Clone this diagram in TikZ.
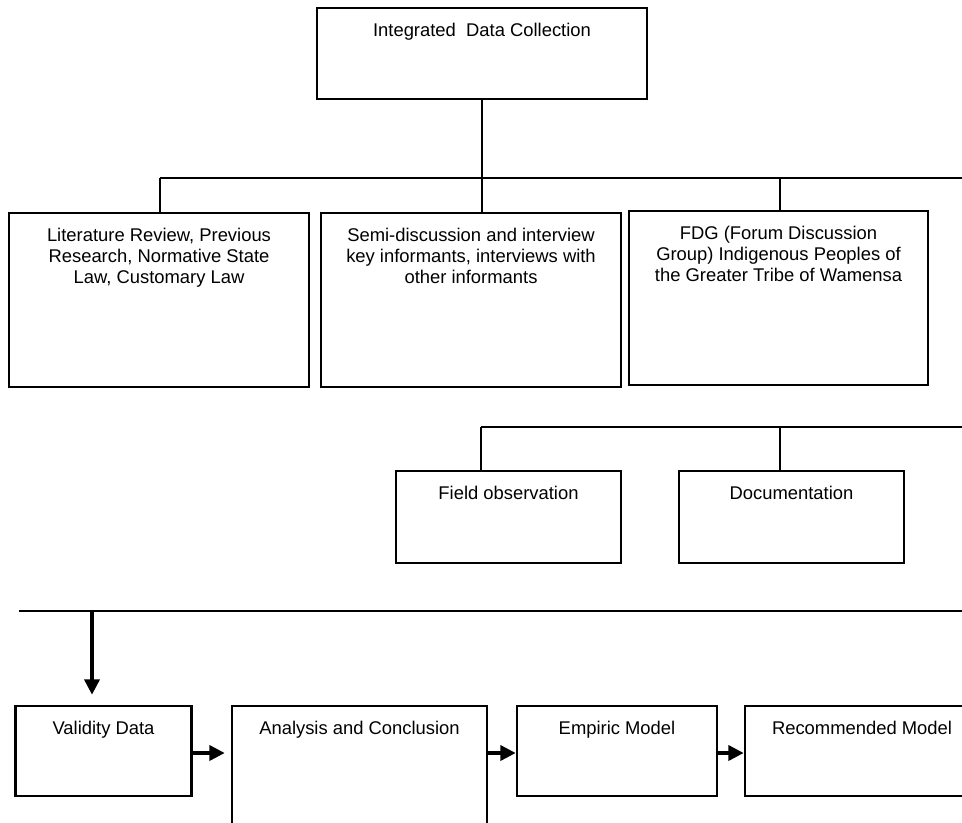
\documentclass[tikz,border=0pt]{standalone}
\usepackage{fontspec}
\setmainfont{Liberation Sans}
\usetikzlibrary{arrows.meta}
\newdimen\pxu \pxu=0.75pt
\begin{document}
\begin{tikzpicture}[x=0.75pt,y=-0.75pt,
  box/.style={draw=black, line width=2.1pt, rectangle, inner sep=0pt, fill=white},
  txt/.style={font=\fontsize{13.8pt}{15.75pt}\selectfont, align=center, inner sep=0pt, anchor=north},
  link/.style={draw=black, line width=1.6pt},
  arr/.style={draw=black, line width=2.3pt, -{Triangle[length=11.5pt,width=11.5pt]}}]
\useasboundingbox (0,0) rectangle (962,823);
\clip (0,0) rectangle (962,823);
\fill[white] (0,0) rectangle (962,823);

% connector coordinates
\coordinate (h1L) at (160,178);
\coordinate (h1R) at (962,178);
\coordinate (d3) at (780,178);
\coordinate (h2L) at (481,427);
\coordinate (h2R) at (962,427);
\coordinate (d5) at (780,427);
\coordinate (h3L) at (19,611);
\coordinate (h3R) at (962,611);
\coordinate (a0) at (92,611);

% boxes
\node[box, minimum width=330\pxu, minimum height=91\pxu] (top) at (482,53.5) {};
\node[box, minimum width=300\pxu, minimum height=174\pxu] (b1) at (159,300) {};
\node[box, minimum width=300\pxu, minimum height=174\pxu] (b2) at (471,300) {};
\node[box, minimum width=299\pxu, minimum height=174\pxu] (b3) at (778.5,298) {};
\node[box, minimum width=225\pxu, minimum height=92\pxu] (fo) at (508.5,517) {};
\node[box, minimum width=225\pxu, minimum height=92\pxu] (doc) at (791.5,517) {};
\node[box, minimum width=176\pxu, minimum height=90\pxu] (val) at (103.5,751) {};
\node[box, minimum width=255\pxu, minimum height=120\pxu] (ana) at (359.5,766) {};
\node[box, minimum width=200\pxu, minimum height=90\pxu] (emp) at (617,751) {};
\node[box, minimum width=234\pxu, minimum height=90\pxu] (rec) at (862,751) {};

% texts
\node[txt] (ttop) at ([yshift=-12.3pt]top.north) {Integrated\ \ Data Collection};
\node[txt] (tb1) at ([yshift=-12.3pt]b1.north) {Literature Review, Previous\\Research, Normative State\\Law, Customary Law};
\node[txt] (tb2) at ([yshift=-12.3pt]b2.north) {Semi-discussion and interview\\key informants, interviews with\\other informants};
\node[txt] (tb3) at ([yshift=-12.3pt]b3.north) {FDG (Forum Discussion\\Group) Indigenous Peoples of\\the Greater Tribe of Wamensa};
\node[txt] (tfo) at ([yshift=-12.3pt]fo.north) {Field observation};
\node[txt] (tdoc) at ([yshift=-12.3pt]doc.north) {Documentation};
\node[txt] (tval) at ([yshift=-12.3pt]val.north) {Validity Data};
\node[txt] (tana) at ([yshift=-12.3pt]ana.north) {Analysis and Conclusion};
\node[txt] (temp) at ([yshift=-12.3pt]emp.north) {Empiric Model};
\node[txt] (trec) at ([yshift=-12.3pt]rec.north) {Recommended Model};

% tree connectors
\draw[link] (top.south) -- (top.south |- h1L);
\draw[link] (h1L) -- (h1R);
\draw[link] (h1L) -- (h1L |- b1.north);
\draw[link] (top.south |- h1L) -- (top.south |- b2.north);
\draw[link] (d3) -- (d3 |- b3.north);
\draw[link] (h2L) -- (h2R);
\draw[link] (h2L) -- (h2L |- fo.north);
\draw[link] (d5) -- (d5 |- doc.north);
\draw[link] (h3L) -- (h3R);

% arrows
\draw[arr, shorten >=7.5pt] (a0) -- (a0 |- val.north);
\draw[arr, shorten >=4.5pt] ([yshift=-1.5pt]val.east) -- ([yshift=-1.5pt]val.east -| ana.west);
\draw[arr] ([yshift=-1.5pt]ana.east |- emp.west) -- ([yshift=-1.5pt]emp.west);
\draw[arr] ([yshift=-1.5pt]emp.east) -- ([yshift=-1.5pt]rec.west);
\end{tikzpicture}
\end{document}
